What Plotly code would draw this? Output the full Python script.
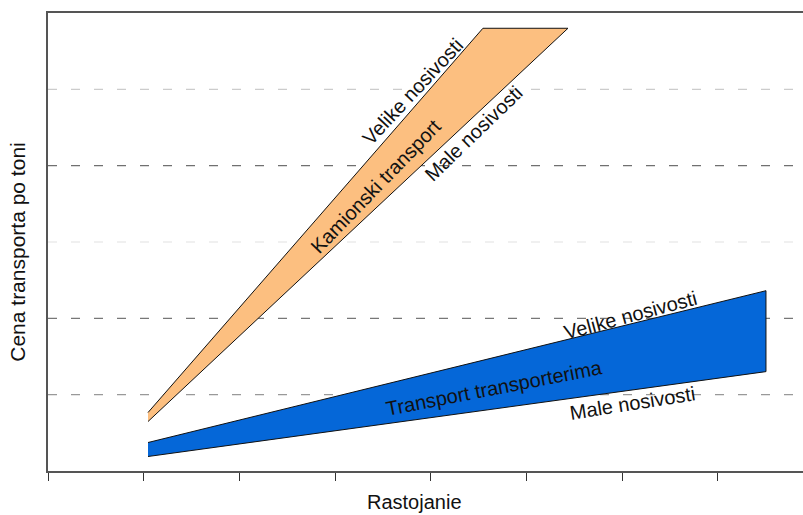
import plotly.graph_objects as go

# Data (x in distance-tick units, y in gridline units)
orange_x = [1.045, 4.545, 5.434, 1.045]
orange_y = [0.766, 5.80, 5.80, 0.648]
blue_x = [1.045, 7.503, 7.503, 1.045]
blue_y = [0.373, 2.362, 1.302, 0.190]
grid_levels = [1, 2, 3, 4, 5]
grid_colors = ["#999999", "#777777", "#ececec", "#707070", "#cccccc"]
x_ticks = [0, 1, 2, 3, 4, 5, 6, 7]

labels = [
    ("Velike nosivosti", 3.814, 4.98, -47),
    ("Kamionski transport", 3.427, 3.736, -46),
    ("Male nosivosti", 4.451, 4.43, -44),
    ("Velike nosivosti", 6.092, 2.048, -15),
    ("Transport transporterima", 4.66, 1.093, -11),
    ("Male nosivosti", 6.113, 0.896, -9),
]

FONT = "Liberation Sans, Arial, sans-serif"

fig = go.Figure()
fig.add_trace(go.Scatter(x=orange_x, y=orange_y, fill="toself", fillcolor="#FCBF80",
                         line=dict(color="#111111", width=1), mode="lines",
                         hoverinfo="skip", showlegend=False))
fig.add_trace(go.Scatter(x=blue_x, y=blue_y, fill="toself", fillcolor="#0567D8",
                         line=dict(color="#111111", width=1), mode="lines",
                         hoverinfo="skip", showlegend=False))

shapes = []
for lvl, col in zip(grid_levels, grid_colors):
    shapes.append(dict(type="line", xref="paper", yref="y", x0=0, x1=1, y0=lvl, y1=lvl,
                       line=dict(color=col, width=1.3, dash="9px,14px"), layer="below"))

annotations = []
for txt, x, y, ang in labels:
    annotations.append(dict(text=txt, x=x, y=y, xref="x", yref="y", showarrow=False,
                            textangle=ang, font=dict(family=FONT, size=20, color="#111111")))
annotations.append(dict(text="Rastojanie", x=0.485, y=-0.068, xref="paper", yref="paper",
                        showarrow=False, xanchor="center", yanchor="middle",
                        font=dict(family=FONT, size=20, color="#111111")))
annotations.append(dict(text="Cena transporta po toni", x=-0.0397, y=0.4766, xref="paper",
                        yref="paper", showarrow=False, textangle=-90, xanchor="center",
                        yanchor="middle", font=dict(family=FONT, size=21, color="#111111")))

fig.update_layout(
    width=803, height=515,
    margin=dict(l=48, r=0, t=13, b=44),
    paper_bgcolor="white", plot_bgcolor="white",
    shapes=shapes, annotations=annotations,
    xaxis=dict(range=[0, 7.89], tickvals=x_ticks, showticklabels=False, ticks="outside",
               ticklen=8, tickcolor="#333333", tickwidth=1.3, showgrid=False, zeroline=False,
               showline=True, linecolor="#555555", linewidth=1.5, mirror=True, fixedrange=True),
    yaxis=dict(range=[0, 6], showticklabels=False, ticks="", showgrid=False, zeroline=False,
               showline=True, linecolor="#555555", linewidth=1.5, fixedrange=True),
)
fig.write_html("out.html", config={"displayModeBar": False},
               post_script="document.body.style.margin='0';document.body.style.overflow='hidden';")
